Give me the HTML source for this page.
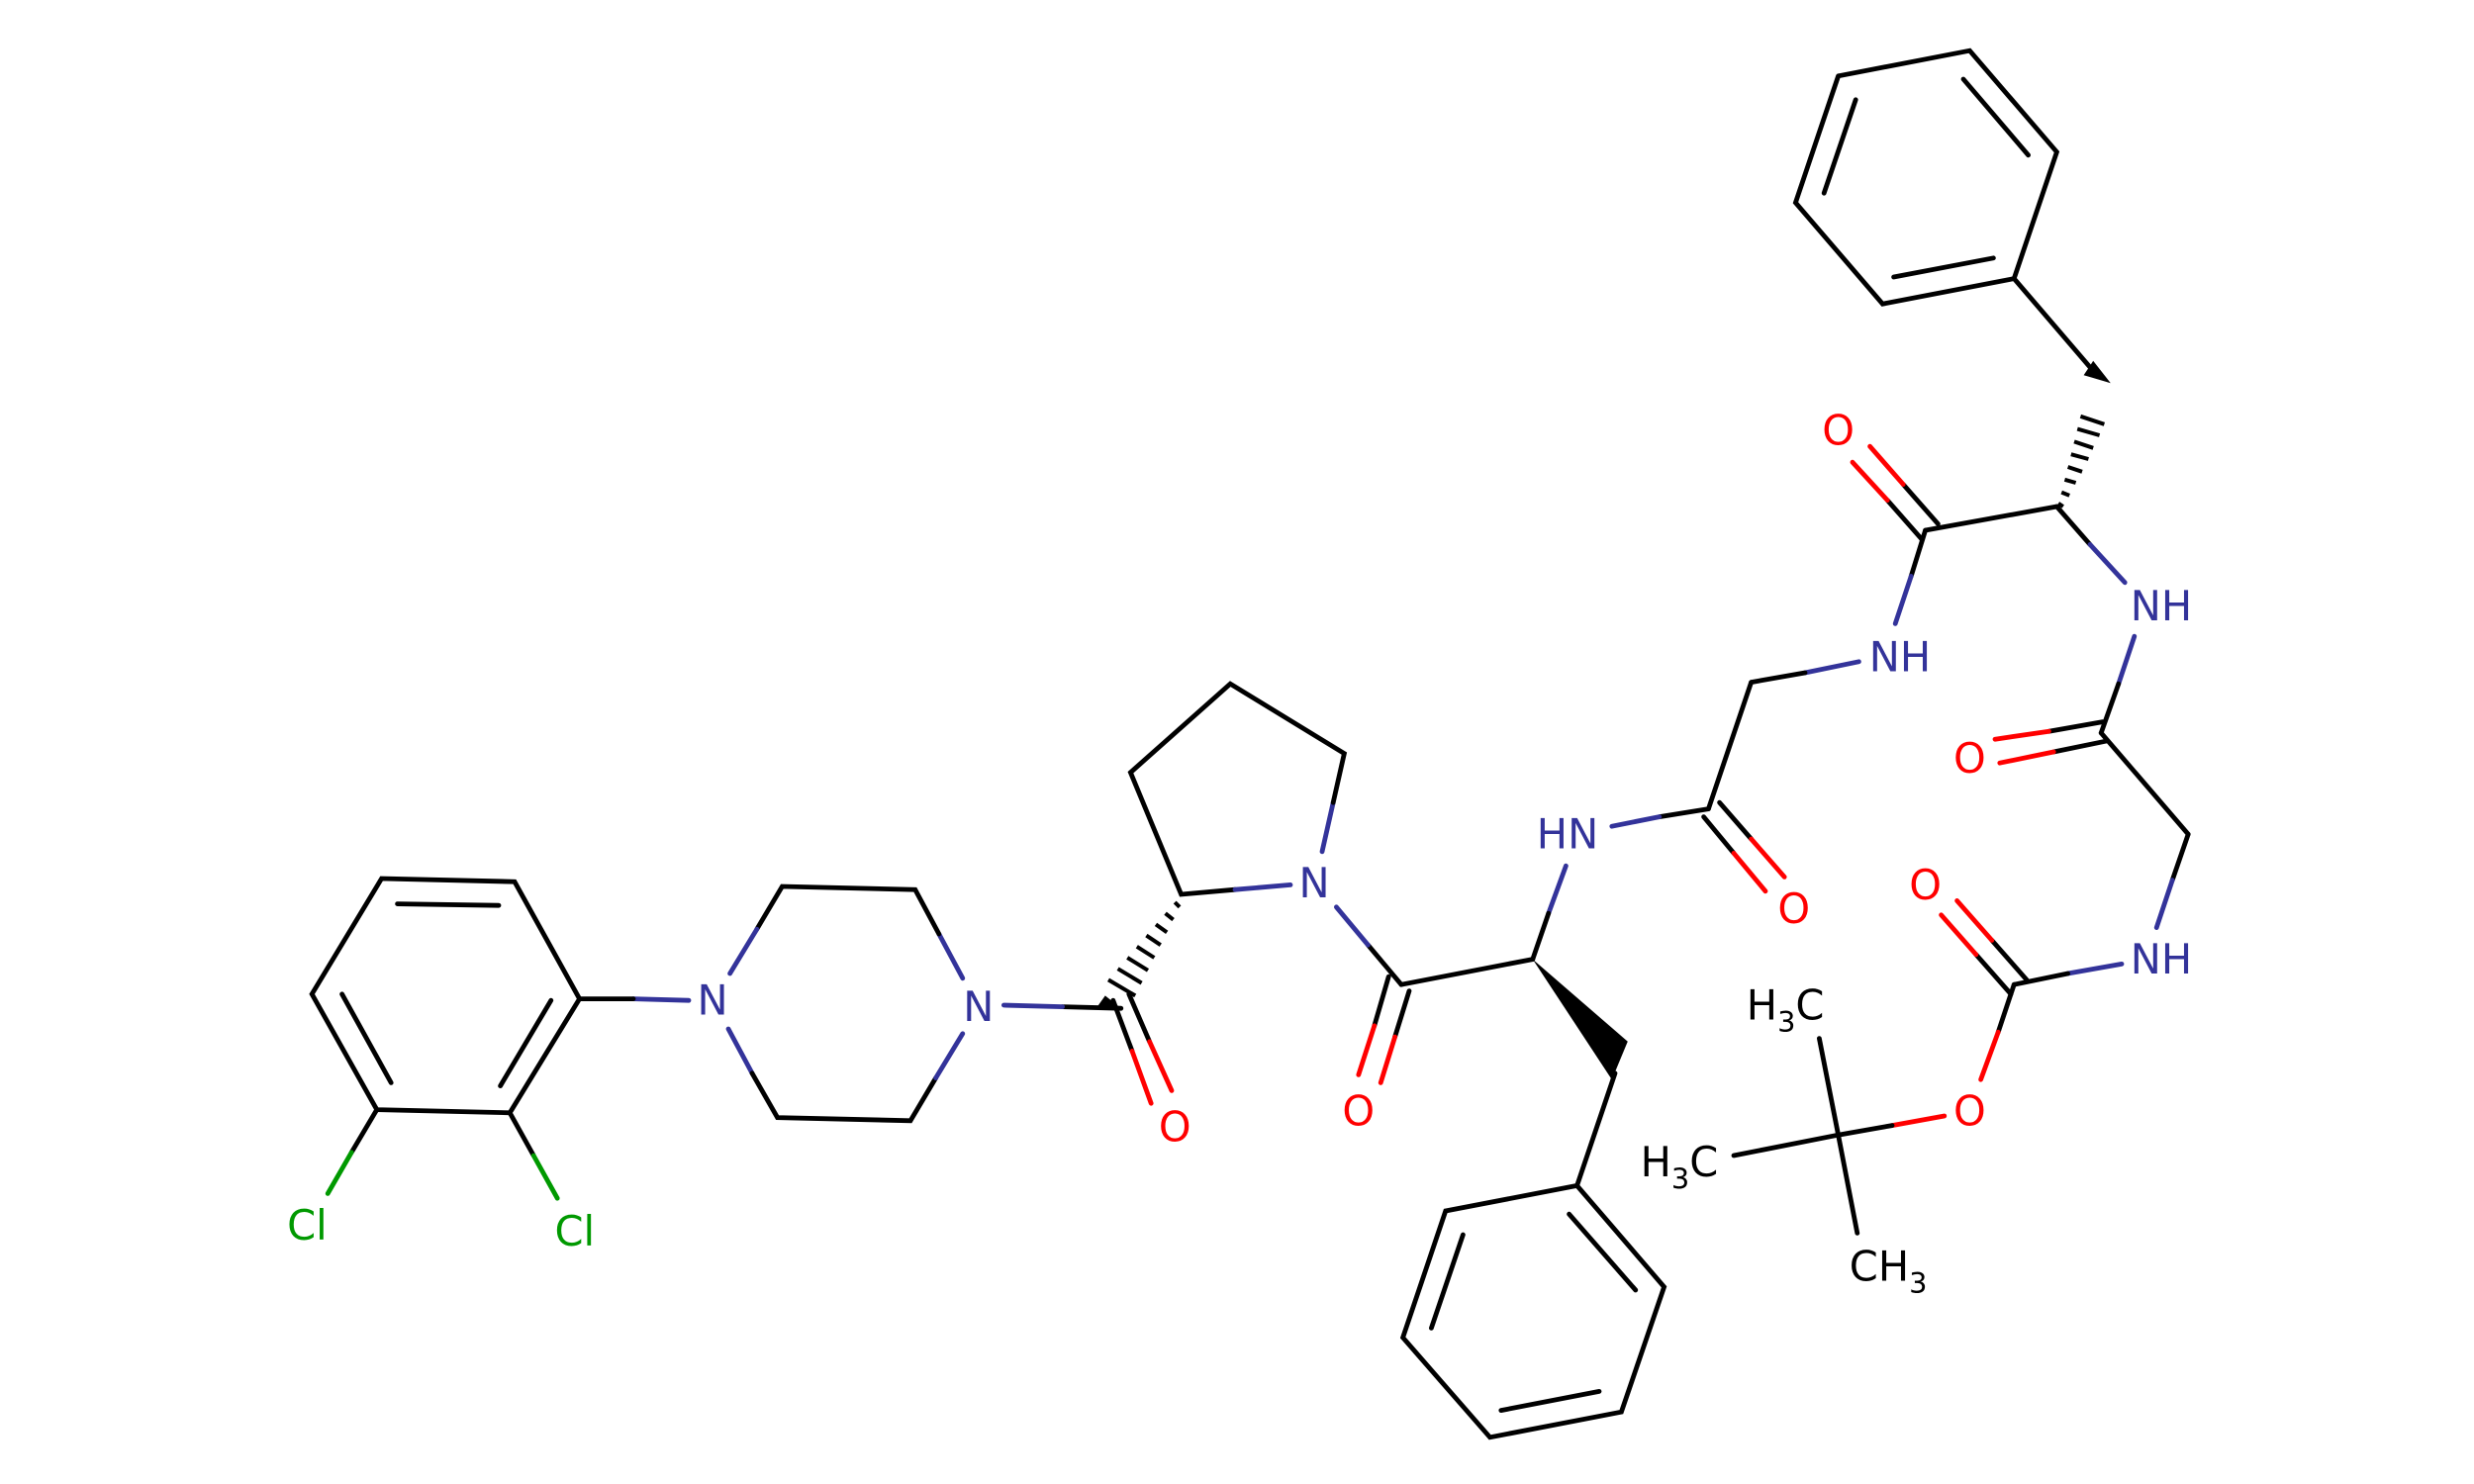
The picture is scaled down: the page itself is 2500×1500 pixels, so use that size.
<!DOCTYPE html>
<html><head><style>html,body{margin:0;padding:0;background:#fff}svg{display:block}</style></head>
<body>
<svg width="2500" height="1500" viewBox="0 0 1562.5 937.5" xmlns="http://www.w3.org/2000/svg">
<rect width="1562.5" height="937.5" fill="#fff"/>
<g stroke="#000" stroke-width="3" stroke-linecap="round" fill="none">
<!-- top benzene -->
<polyline points="1161,48 1244,32 1299,96 1272,176 1189,192 1134,128 1161,48"/>
<line x1="1172" y1="63" x2="1152" y2="122"/><line x1="1240" y1="50" x2="1281" y2="98"/><line x1="1196" y1="175" x2="1259" y2="163"/>
<line x1="1272" y1="176" x2="1320" y2="232"/>
<line x1="1216" y1="335" x2="1299" y2="320"/>
<line x1="1299" y1="320" x2="1320" y2="344"/><line x1="1320" y1="344" x2="1342" y2="368" stroke="#33339a"/>
<line x1="1216" y1="335" x2="1207" y2="364"/><line x1="1207" y1="364" x2="1197" y2="394" stroke="#33339a"/>
<line x1="1224" y1="331" x2="1202" y2="306"/><line x1="1202" y1="306" x2="1181" y2="282" stroke="#f00"/>
<line x1="1214" y1="341" x2="1192" y2="316"/><line x1="1192" y1="316" x2="1170" y2="292" stroke="#f00"/>
<line x1="1348" y1="402" x2="1338" y2="432" stroke="#33339a"/><line x1="1338" y1="432" x2="1327" y2="463"/>
<line x1="1328" y1="456" x2="1294" y2="462"/><line x1="1294" y1="462" x2="1260" y2="467" stroke="#f00"/>
<line x1="1331" y1="468" x2="1297" y2="475"/><line x1="1297" y1="475" x2="1263" y2="482" stroke="#f00"/>
<line x1="1327" y1="463" x2="1382" y2="527"/><line x1="1382" y1="527" x2="1372" y2="556"/><line x1="1372" y1="556" x2="1362" y2="586" stroke="#33339a"/>
<line x1="1340" y1="609" x2="1306" y2="615" stroke="#33339a"/><line x1="1306" y1="615" x2="1272" y2="622"/>
<line x1="1280" y1="619" x2="1258" y2="594"/><line x1="1258" y1="594" x2="1236" y2="569" stroke="#f00"/>
<line x1="1270" y1="628" x2="1248" y2="603"/><line x1="1248" y1="603" x2="1226" y2="578" stroke="#f00"/>
<line x1="1272" y1="622" x2="1262" y2="652"/><line x1="1262" y1="652" x2="1251" y2="682" stroke="#f00"/>
<line x1="1228" y1="705" x2="1195" y2="711" stroke="#f00"/><line x1="1195" y1="711" x2="1161" y2="717"/>
<line x1="1161" y1="717" x2="1149" y2="656"/><line x1="1161" y1="717" x2="1095" y2="730"/><line x1="1161" y1="717" x2="1173" y2="779"/>
<!-- glycine -->
<line x1="1174" y1="418" x2="1140" y2="425" stroke="#33339a"/><line x1="1140" y1="425" x2="1106" y2="431"/>
<line x1="1106" y1="431" x2="1079" y2="511"/>
<line x1="1086" y1="507" x2="1106" y2="530"/><line x1="1106" y1="530" x2="1127" y2="554" stroke="#f00"/>
<line x1="1076" y1="516" x2="1095" y2="539"/><line x1="1095" y1="539" x2="1115" y2="563" stroke="#f00"/>
<line x1="1079" y1="511" x2="1048" y2="516"/><line x1="1048" y1="516" x2="1018" y2="522" stroke="#33339a"/>
<line x1="989" y1="547" x2="978" y2="577" stroke="#33339a"/><line x1="978" y1="577" x2="968" y2="606"/>
<!-- Phe lower -->
<line x1="1020" y1="678" x2="996" y2="749"/>
<polyline points="996,749 1051,813 1024,892 941,908 886,845 913,765 996,749"/>
<line x1="991" y1="767" x2="1033" y2="815"/><line x1="1010" y1="879" x2="948" y2="891"/><line x1="924" y1="780" x2="904" y2="839"/>
<line x1="968" y1="606" x2="885" y2="622"/>
<line x1="877" y1="617" x2="868" y2="648"/><line x1="868" y1="648" x2="858" y2="679" stroke="#f00"/>
<line x1="890" y1="626" x2="881" y2="655"/><line x1="881" y1="655" x2="872" y2="684" stroke="#f00"/>
<line x1="885" y1="622" x2="864" y2="597"/><line x1="864" y1="597" x2="844" y2="573" stroke="#33339a"/>
<!-- pyrrolidine -->
<line x1="835" y1="538" x2="842" y2="507" stroke="#33339a"/><polyline points="842,507 849,476 777,432 714,488 746,565 780,562"/>
<line x1="780" y1="562" x2="815" y2="559" stroke="#33339a"/>
<line x1="708" y1="637" x2="671" y2="636"/><line x1="671" y1="636" x2="634" y2="635" stroke="#33339a"/>
<line x1="703" y1="632" x2="715" y2="664"/><line x1="715" y1="664" x2="727" y2="697" stroke="#f00"/>
<line x1="713" y1="628" x2="726" y2="658"/><line x1="726" y1="658" x2="740" y2="689" stroke="#f00"/>
<!-- piperazine -->
<line x1="608" y1="618" x2="593" y2="590" stroke="#33339a"/><polyline points="593,590 578,562 494,560 478,587"/><line x1="478" y1="587" x2="461" y2="615" stroke="#33339a"/>
<line x1="460" y1="650" x2="475" y2="678" stroke="#33339a"/><polyline points="475,678 491,706 575,708 591,681"/><line x1="591" y1="681" x2="608" y2="653" stroke="#33339a"/>
<line x1="435" y1="632" x2="400" y2="631" stroke="#33339a"/><line x1="400" y1="631" x2="366" y2="631"/>
<polyline points="366,631 325,557 241,555 197,628 238,701 322,703 366,631"/>
<line x1="315" y1="572" x2="251" y2="571"/><line x1="216" y1="628" x2="247" y2="684"/><line x1="316" y1="686" x2="348" y2="632"/>
<line x1="238" y1="701" x2="222" y2="728"/><line x1="222" y1="728" x2="207" y2="754" stroke="#090"/>
<line x1="322" y1="703" x2="337" y2="730"/><line x1="337" y1="730" x2="352" y2="757" stroke="#090"/>
</g>
<!-- wedges -->
<polygon points="968,606 1028,658 1018,682" fill="#000"/>
<g stroke="#000" stroke-width="2.5">
<line x1="1300" y1="318" x2="1303" y2="320"/><line x1="1302" y1="311" x2="1307" y2="313"/><line x1="1304" y1="303" x2="1311" y2="305"/><line x1="1306" y1="295" x2="1315" y2="298"/><line x1="1308" y1="287" x2="1319" y2="290"/><line x1="1310" y1="279" x2="1322" y2="283"/><line x1="1312" y1="271" x2="1326" y2="275"/><line x1="1314" y1="263" x2="1329" y2="268"/>
<line x1="742" y1="570" x2="745" y2="573"/><line x1="736" y1="577" x2="741" y2="581"/><line x1="730" y1="584" x2="737" y2="589"/><line x1="724" y1="591" x2="733" y2="597"/><line x1="718" y1="598" x2="729" y2="605"/><line x1="712" y1="605" x2="725" y2="613"/><line x1="706" y1="612" x2="721" y2="621"/><line x1="700" y1="619" x2="717" y2="629"/>
</g>
<polygon points="1316,237 1333,242 1322,228" fill="#000"/>
<polygon points="693,636 708,637 698,629" fill="#000"/>
<g font-family="'DejaVu Sans','Liberation Sans',sans-serif" font-size="26" text-anchor="middle">
<text x="1161" y="281" fill="#f00">O</text>
<text x="1200" y="424" fill="#33339a">NH</text>
<text x="1365" y="392" fill="#33339a">NH</text>
<text x="1244" y="488" fill="#f00">O</text>
<text x="1365" y="615" fill="#33339a">NH</text>
<text x="1216" y="568" fill="#f00">O</text>
<text x="1244" y="711" fill="#f00">O</text>
<text x="1133" y="583" fill="#f00">O</text>
<text x="990" y="536" fill="#33339a">HN</text>
<text x="858" y="711" fill="#f00">O</text>
<text x="830" y="567" fill="#33339a">N</text>
<text x="742" y="721" fill="#f00">O</text>
<text x="618" y="645" fill="#33339a">N</text>
<text x="450" y="641" fill="#33339a">N</text>
<text x="194" y="783" fill="#090">Cl</text>
<text x="363" y="787" fill="#090">Cl</text>
<text x="1103" y="644" text-anchor="start" fill="#000">H<tspan font-size="18" dy="8">3</tspan><tspan dy="-8">C</tspan></text>
<text x="1036" y="743" text-anchor="start" fill="#000">H<tspan font-size="18" dy="8">3</tspan><tspan dy="-8">C</tspan></text>
<text x="1168" y="809" text-anchor="start" fill="#000">CH<tspan font-size="18" dy="8">3</tspan></text>
</g>
</svg>
</body></html>
